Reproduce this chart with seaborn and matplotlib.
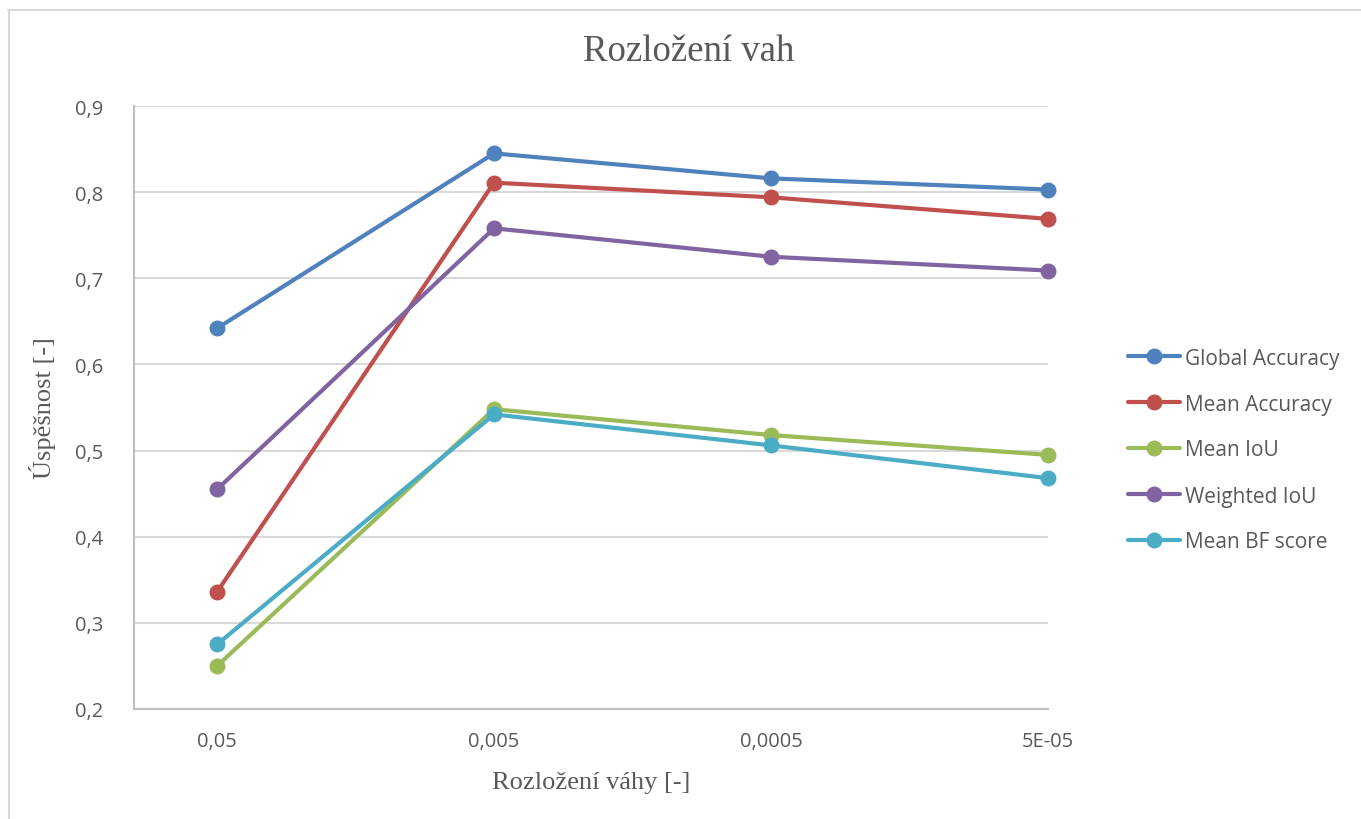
import matplotlib
matplotlib.use("Agg")
import matplotlib.pyplot as plt
from matplotlib.lines import Line2D
import seaborn as sns
import pandas as pd

# Weight-decay settings on the x axis (categorical)
weight_decay = ["0,05", "0,005", "0,0005", "5E-05"]

global_accuracy = [0.642, 0.845, 0.816, 0.803]
mean_accuracy = [0.336, 0.811, 0.794, 0.769]
mean_iou = [0.250, 0.548, 0.518, 0.495]
weighted_iou = [0.455, 0.758, 0.725, 0.709]
mean_bf_score = [0.275, 0.542, 0.506, 0.468]

series_names = ["Global Accuracy", "Mean Accuracy", "Mean IoU", "Weighted IoU", "Mean BF score"]
series_values = [global_accuracy, mean_accuracy, mean_iou, weighted_iou, mean_bf_score]
colors = ["#4F81BD", "#C0504D", "#9BBB59", "#8064A2", "#4BACC6"]

y_ticks = [0.2, 0.3, 0.4, 0.5, 0.6, 0.7, 0.8, 0.9]

rows = []
for name, vals in zip(series_names, series_values):
    for i, (cat, v) in enumerate(zip(weight_decay, vals)):
        rows.append({"metric": name, "pos": i, "decay": cat, "value": v})
df = pd.DataFrame(rows)

sns.set_theme(style="white")
plt.rcParams["font.family"] = ["Open Sans", "DejaVu Sans"]

fig = plt.figure(figsize=(13.61, 8.2), dpi=100)
W, H = 1361, 820
ax = fig.add_axes([134 / W, 1 - 710 / H, (1048 - 134) / W, (710 - 107) / H])

# outer chart frame
fig.add_artist(Line2D([8 / W, 1.0], [1 - 10.5 / H, 1 - 10.5 / H], color="#d9d9d9", lw=1.5,
                      transform=fig.transFigure))
fig.add_artist(Line2D([8.5 / W, 8.5 / W], [0, 1 - 10.5 / H], color="#d9d9d9", lw=1.5,
                      transform=fig.transFigure))

sns.lineplot(data=df, x="pos", y="value", hue="metric", hue_order=series_names,
             palette=colors, marker="o", markersize=11.5, markeredgewidth=0,
             linewidth=3, ax=ax, legend=False, zorder=3)
for ln in ax.get_lines():
    ln.set_clip_on(False)

ax.set_xlim(-0.3, 3)
ax.set_ylim(0.2, 0.9)
ax.set_yticks(y_ticks)
ax.set_yticklabels([f"{t:.1f}".replace(".", ",") for t in y_ticks])
ax.set_xticks(range(len(weight_decay)))
ax.set_xticklabels(weight_decay)
ax.tick_params(axis="both", length=0, labelsize=14.5, colors="#595959")
ax.tick_params(axis="y", pad=22)
ax.tick_params(axis="x", pad=16)

ax.grid(axis="y", color="#d9d9d9", linewidth=1.5, zorder=0)
ax.grid(axis="x", visible=False)
for side in ["top", "right"]:
    ax.spines[side].set_visible(False)
for side in ["left", "bottom"]:
    ax.spines[side].set_color("#bfbfbf")
    ax.spines[side].set_linewidth(1.5)

serif = ["Liberation Serif", "DejaVu Serif"]
fig.text(689 / W, 1 - 52 / H, "Rozložení vah", ha="center", va="center",
         fontsize=26.5, color="#595959", family=serif)
ax.set_xlabel("Rozložení váhy [-]", fontsize=19, color="#595959", family=serif, labelpad=14)
ax.set_ylabel("Úspěšnost [-]", fontsize=19, color="#595959", family=serif, labelpad=14)

handles = [Line2D([0], [0], color=c, lw=3, marker="o", markersize=11.5, markeredgewidth=0)
           for c in colors]
leg = fig.legend(handles, series_names, loc="center left",
                 bbox_to_anchor=(1128 / W, 1 - 451 / H), frameon=False,
                 fontsize=15, handlelength=2.5, handletextpad=0.25,
                 labelspacing=1.2, borderaxespad=0, borderpad=0)
for t in leg.get_texts():
    t.set_color("#595959")

fig.savefig("out.png", dpi=100, facecolor="white")
